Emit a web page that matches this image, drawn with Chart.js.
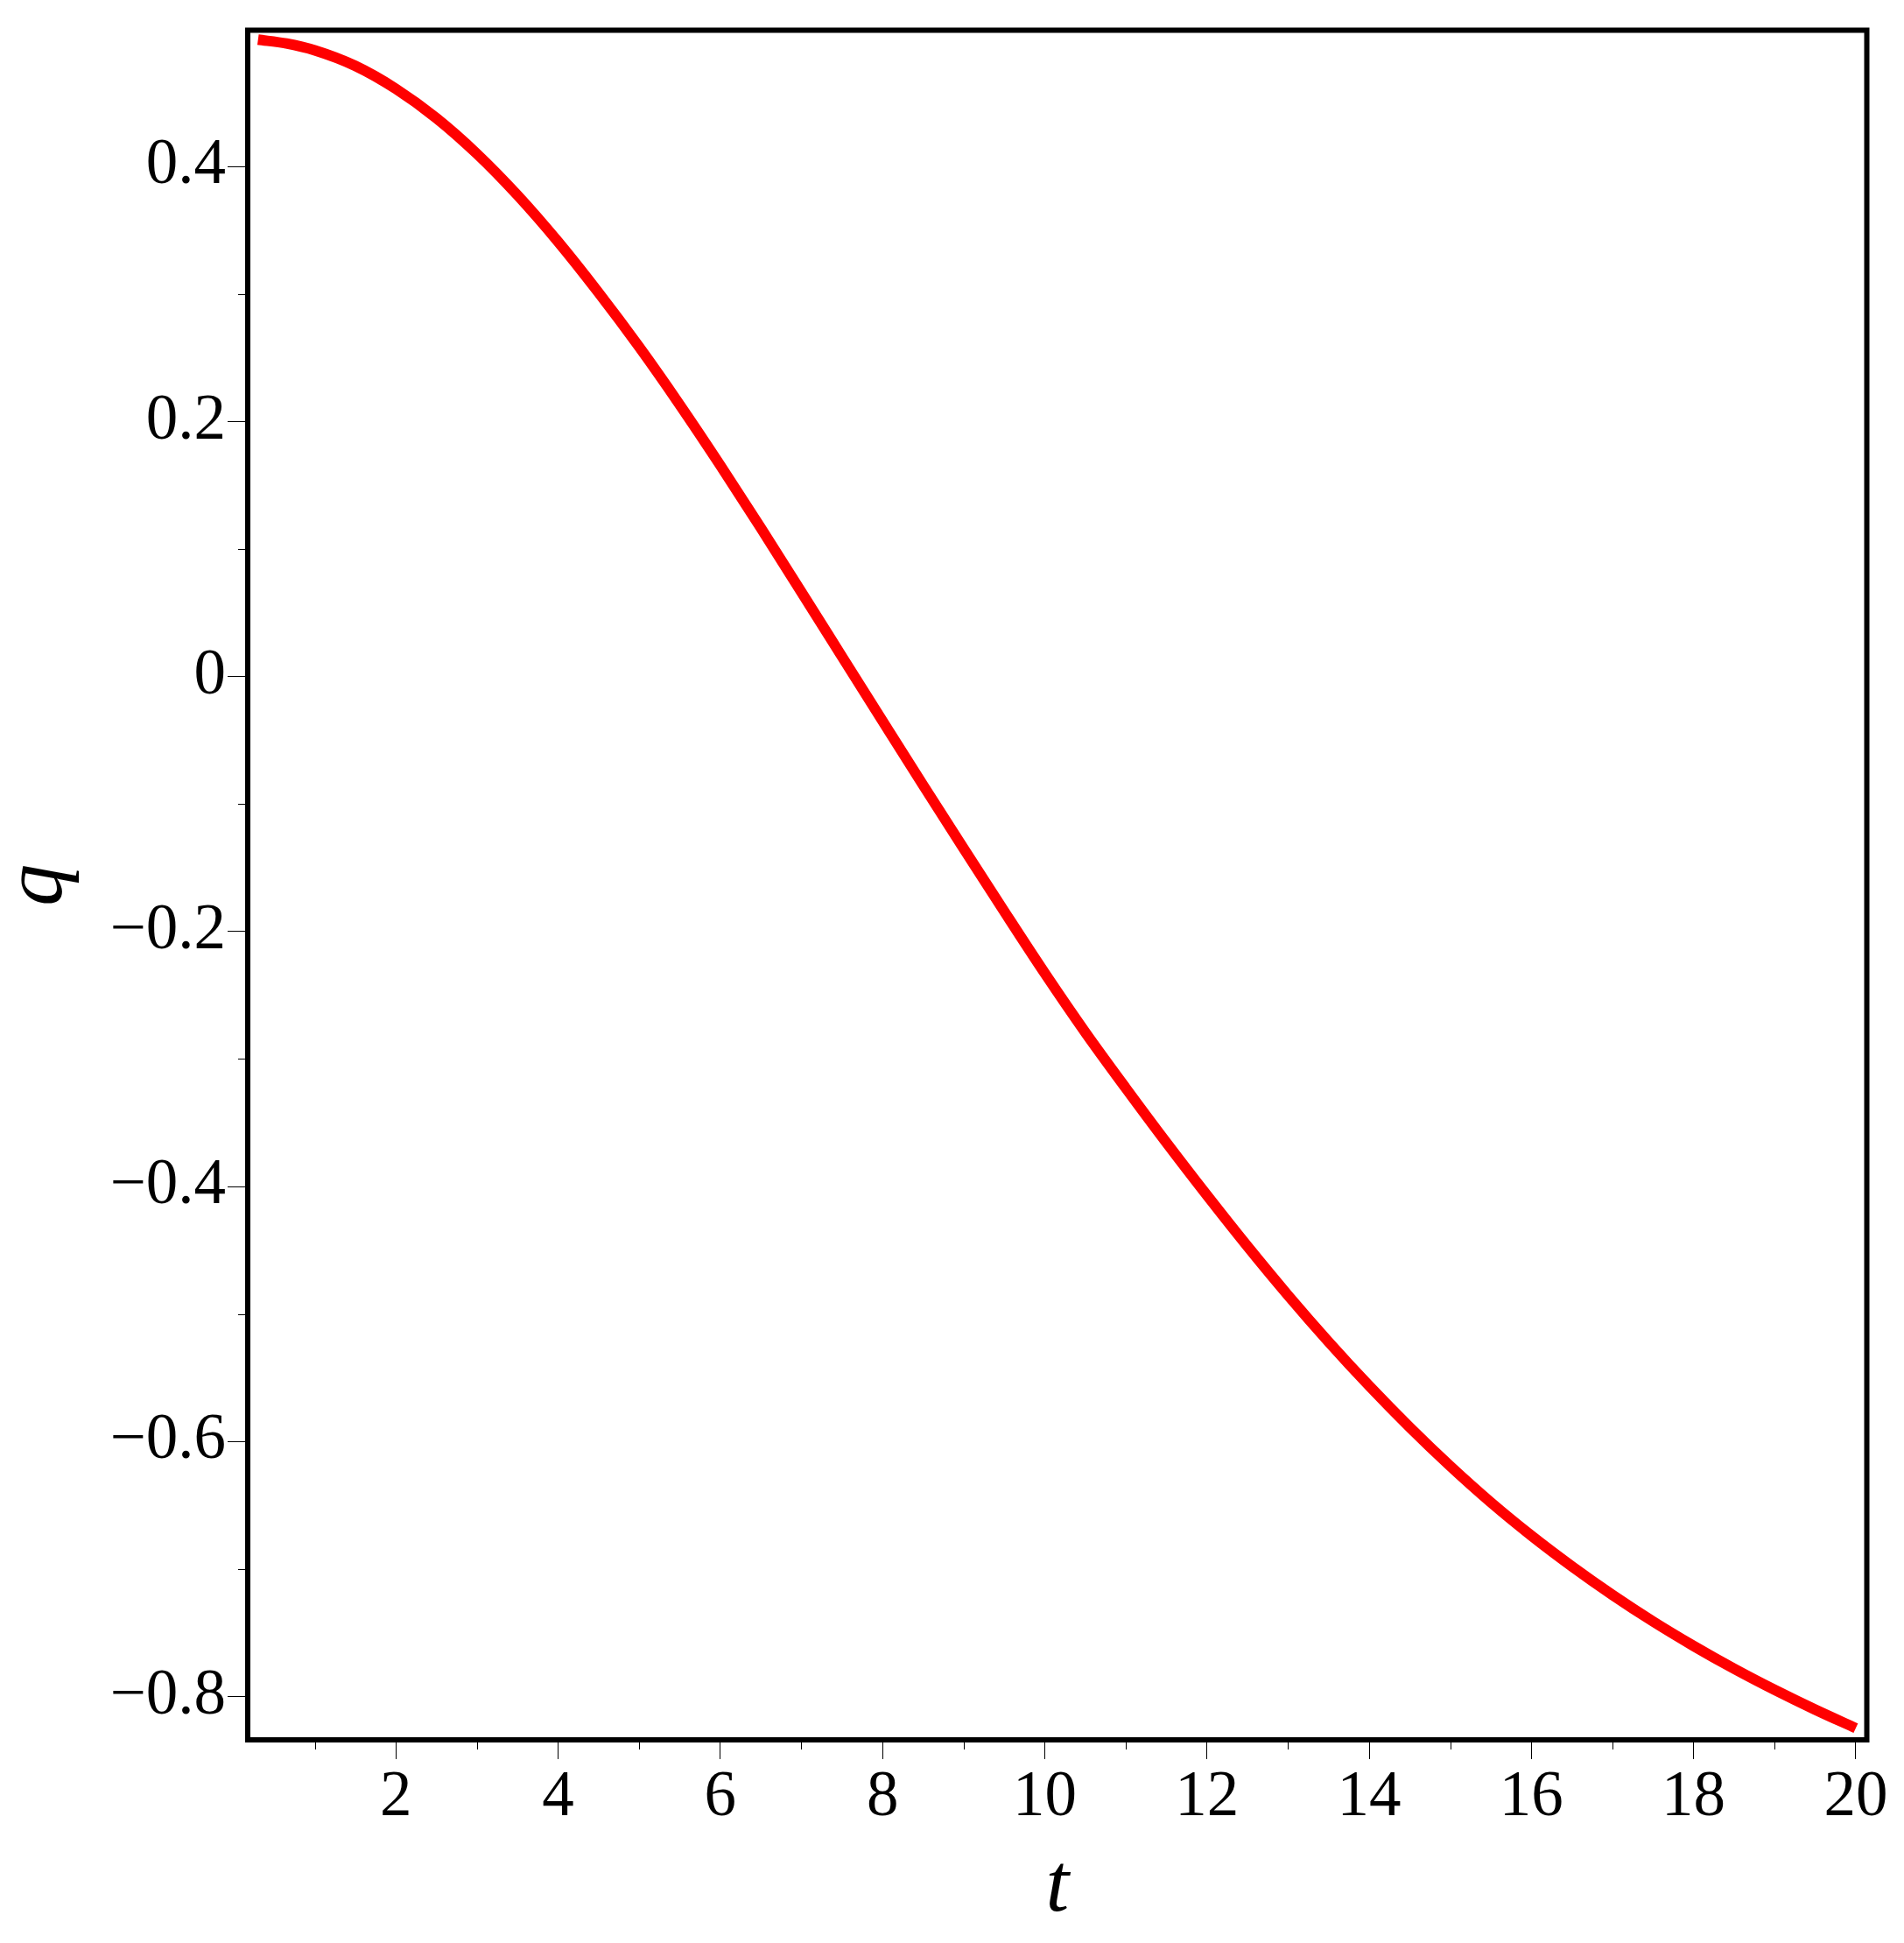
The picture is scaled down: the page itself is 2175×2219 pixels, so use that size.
<!DOCTYPE html>
<html>
<head>
<meta charset="utf-8">
<script src="https://cdn.jsdelivr.net/npm/chart.js@4.4.1/dist/chart.umd.min.js"></script>
<style>
  html, body { margin: 0; padding: 0; background: #ffffff; }
  #wrap { width: 2175px; height: 2219px; position: relative; }
</style>
</head>
<body>
<div id="wrap"><canvas id="c" width="2175" height="2219"></canvas></div>
<script>
// ---- data ----
const tValues = [0.3, 0.65, 1, 1.5, 2, 2.5, 3, 3.5, 4, 4.5, 5, 5.5, 6, 6.5, 7, 7.5, 8, 8.5, 9, 9.5, 10,
                 10.5, 11, 11.5, 12, 12.5, 13, 13.5, 14, 14.5, 15, 15.5, 16, 16.5, 17, 17.5, 18, 18.5, 19, 19.5, 20];
const qValues = [0.4996, 0.4966, 0.4912, 0.4790, 0.4610, 0.4380, 0.4100, 0.3775, 0.3410, 0.3010, 0.2585,
                 0.2132, 0.1657, 0.1165, 0.0662, 0.0157, -0.0348, -0.0851, -0.1348, -0.1841, -0.2326,
                 -0.2790, -0.3228, -0.3655, -0.4068, -0.4469, -0.4853, -0.5218, -0.5563, -0.5888, -0.6193,
                 -0.6477, -0.6738, -0.6979, -0.7203, -0.7411, -0.7603, -0.7782, -0.7948, -0.8103, -0.8248];
const xTickValues = [2, 4, 6, 8, 10, 12, 14, 16, 18, 20];
const xMinorTicks = [1, 3, 5, 7, 9, 11, 13, 15, 17, 19];
const yTickValues = [-0.8, -0.6, -0.4, -0.2, 0, 0.2, 0.4];
const yMinorTicks = [-0.7, -0.5, -0.3, -0.1, 0.1, 0.3];
const xTitle = 't';
const yTitle = 'q';

const points = tValues.map((t, i) => ({ x: t, y: qValues[i] }));

const framePlugin = {
  id: 'frame',
  afterDraw(chart) {
    const ctx = chart.ctx;
    const a = chart.chartArea;
    const xs = chart.scales.x, ys = chart.scales.y;
    ctx.save();
    ctx.strokeStyle = '#000';
    ctx.lineWidth = 1;
    ctx.beginPath();
    xMinorTicks.forEach(v => {
      const px = Math.round(xs.getPixelForValue(v)) + 0.5;
      ctx.moveTo(px, a.bottom);
      ctx.lineTo(px, a.bottom + 11);
    });
    yMinorTicks.forEach(v => {
      const py = Math.round(ys.getPixelForValue(v)) + 0.5;
      ctx.moveTo(a.left - 11, py);
      ctx.lineTo(a.left, py);
    });
    ctx.stroke();
    ctx.lineWidth = 6;
    ctx.strokeRect(a.left, a.top, a.right - a.left, a.bottom - a.top);
    ctx.restore();
  }
};

const tickFont = { family: '"Liberation Serif", "Times New Roman", serif', size: 73, lineHeight: 1.2 };
const titleFont = { family: '"Liberation Serif", "Times New Roman", serif', size: 96, style: 'italic', lineHeight: 0.93 };

new Chart(document.getElementById('c'), {
  type: 'line',
  data: {
    datasets: [{
      data: points,
      borderColor: '#ff0000',
      backgroundColor: '#ff0000',
      borderWidth: 12,
      borderCapStyle: 'butt',
      borderJoinStyle: 'round',
      pointRadius: 0,
      pointHoverRadius: 0,
      cubicInterpolationMode: 'monotone',
      fill: false
    }]
  },
  plugins: [framePlugin],
  options: {
    responsive: false,
    devicePixelRatio: 1,
    animation: false,
    layout: { padding: { left: 0, top: 34.5, right: 42.5, bottom: 0 } },
    plugins: { legend: { display: false }, tooltip: { enabled: false } },
    scales: {
      x: {
        type: 'linear',
        position: 'bottom',
        min: 0.173,
        max: 20.136,
        afterBuildTicks: s => { s.ticks = xTickValues.map(v => ({ value: v })); },
        afterFit: s => { s.height = 232; s.paddingLeft = 0; s.paddingRight = 0; s.paddingTop = 0; s.paddingBottom = 0; },
        grid: { drawOnChartArea: false, drawTicks: true, tickLength: 22, tickWidth: 1, tickColor: '#000' },
        border: { display: false },
        ticks: { color: '#000', font: tickFont, padding: 1, maxRotation: 0, autoSkip: false,
                 callback: v => String(v) },
        title: { display: true, text: xTitle, color: '#000', font: titleFont, padding: { top: 0, bottom: 18 } }
      },
      y: {
        type: 'linear',
        position: 'left',
        min: -0.834,
        max: 0.507,
        afterBuildTicks: s => { s.ticks = yTickValues.map(v => ({ value: v })); },
        afterFit: s => { s.width = 283; s.paddingLeft = 0; s.paddingRight = 0; s.paddingTop = 0; s.paddingBottom = 0; },
        grid: { drawOnChartArea: false, drawTicks: true, tickLength: 23, tickWidth: 1, tickColor: '#000' },
        border: { display: false },
        ticks: { color: '#000', font: tickFont, padding: 2, autoSkip: false,
                 callback: v => {
                   const r = Math.round(v * 10) / 10;
                   if (r === 0) return '0';
                   return (r < 0 ? '\u2212' : '') + Math.abs(r).toFixed(1);
                 } },
        title: { display: true, text: yTitle, color: '#000', font: titleFont, padding: { top: 0, bottom: 0 } }
      }
    }
  }
});
</script>
</body>
</html>
